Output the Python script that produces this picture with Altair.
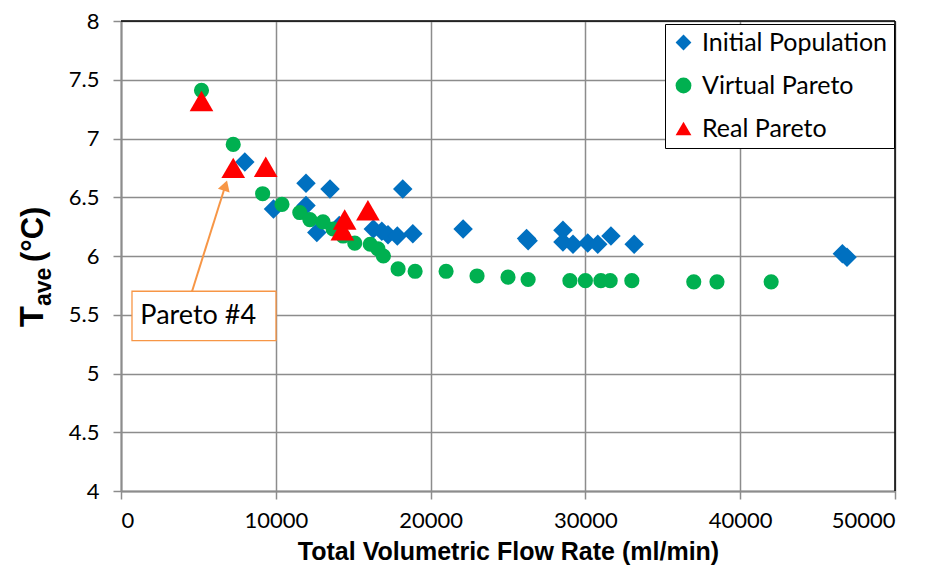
import altair as alt
import pandas as pd

# ---------------- data ----------------
series_names = ["Initial Population", "Virtual Pareto", "Real Pareto"]
series_colors = ["#0070C0", "#00B050", "#FF0000"]
series_shapes = ["diamond", "circle", "triangle-up"]

init_x = [8000, 9850, 11950, 11950, 12650, 13500, 14100, 16300, 16850, 17250, 17850,
          18200, 18850, 22100, 26200, 26300, 28550, 28550, 29200, 30150, 30800, 31650,
          33150, 46600, 46900]
init_y = [6.80, 6.40, 6.62, 6.43, 6.20, 6.57, 6.26, 6.23, 6.21, 6.18, 6.17,
          6.57, 6.19, 6.23, 6.15, 6.13, 6.22, 6.12, 6.10, 6.11, 6.10, 6.17,
          6.10, 6.02, 5.99]

virt_x = [5200, 7250, 9150, 10400, 11550, 12200, 13050, 13700, 14350, 15100, 16100,
          16600, 16950, 17900, 19000, 21000, 23000, 25000, 26300, 29000, 30000, 31000,
          31600, 33000, 37000, 38500, 42000]
virt_y = [7.41, 6.95, 6.53, 6.44, 6.37, 6.31, 6.29, 6.23, 6.17, 6.11, 6.10,
          6.06, 6.00, 5.89, 5.87, 5.87, 5.83, 5.82, 5.80, 5.79, 5.79, 5.79,
          5.79, 5.79, 5.78, 5.78, 5.78]

real_x = [5200, 7250, 9350, 14300, 14450, 15950]
real_y = [7.32, 6.75, 6.76, 6.22, 6.31, 6.39]

x_ticks = [0, 10000, 20000, 30000, 40000, 50000]
y_ticks = [4, 4.5, 5, 5.5, 6, 6.5, 7, 7.5, 8]

# annotation "Pareto #4"
note_text = "Pareto #4"
note_box_x = [710, 10010]
note_box_y = [5.28, 5.70]
note_text_pos = [1250, 5.49]
arrow_from = [4590, 5.70]
arrow_to = [6744, 6.60]

# ---------------- build ----------------
rows = []
for name, xs_, ys_ in zip(series_names, [init_x, virt_x, real_x], [init_y, virt_y, real_y]):
    for a, b in zip(xs_, ys_):
        rows.append({"flow": a, "tave": b, "series": name})
df = pd.DataFrame(rows)

W, H = 774, 470
GRID = "#8C8C8C"
xs = alt.Scale(domain=[0, 50000], nice=False, zero=False)
ys = alt.Scale(domain=[4, 8], nice=False, zero=False)

xaxis = alt.Axis(title="Total Volumetric Flow Rate (ml/min)", values=x_ticks, format="d",
                 grid=True, gridColor=GRID, gridWidth=1.5, domainColor=GRID, domainWidth=2,
                 tickColor=GRID, tickSize=8, tickWidth=1.5, labelFont="Lato", labelFontSize=22,
                 labelColor="black", labelPadding=11, titleFont="Liberation Sans",
                 titleFontSize=25, titleFontWeight="bold", titleColor="black", titlePadding=8)
yaxis = alt.Axis(title=None, values=y_ticks, format="~g",
                 grid=True, gridColor=GRID, gridWidth=1.5, domainColor=GRID, domainWidth=2,
                 tickColor=GRID, tickSize=8, tickWidth=1.5, labelFont="Lato", labelFontSize=22,
                 labelColor="black", labelPadding=14)

leg = alt.Legend(title=None, orient="none", legendX=544, legendY=3, fillColor="white",
                 strokeColor="black", padding=6, labelFont="Lato", labelFontSize=25,
                 labelColor="black", symbolSize=250, rowPadding=17, labelOffset=6,
                 labelLimit=400, symbolStrokeWidth=0)
color = alt.Color("series:N", scale=alt.Scale(domain=series_names, range=series_colors), legend=leg)
shape = alt.Shape("series:N", scale=alt.Scale(domain=series_names, range=series_shapes), legend=leg)

X = alt.X("flow:Q", scale=xs, axis=xaxis)
Y = alt.Y("tave:Q", scale=ys, axis=yaxis)

base = alt.Chart(df)


def pts(name, size):
    return base.transform_filter(alt.datum.series == name).mark_point(
        filled=True, size=size, opacity=1, strokeWidth=0
    ).encode(x=X, y=Y, color=color, shape=shape)


init_layer = pts(series_names[0], 380)
virt_layer = pts(series_names[1], 230)
real_layer = pts(series_names[2], 560)

box = alt.Chart(pd.DataFrame({"flow": [note_box_x[0]], "flow2": [note_box_x[1]],
                              "tave": [note_box_y[1]], "tave2": [note_box_y[0]]})).mark_rect(
    fill="white", stroke="#F79646", strokeWidth=1.3
).encode(x=X, x2="flow2:Q", y=Y, y2="tave2:Q")

note = alt.Chart(pd.DataFrame({"flow": [note_text_pos[0]], "tave": [note_text_pos[1]]})).mark_text(
    text=note_text, align="left", baseline="middle", font="Lato", fontSize=27, color="black"
).encode(x=X, y=Y)

arrow = alt.Chart(pd.DataFrame({"flow": [arrow_from[0]], "tave": [arrow_from[1]],
                                "flow2": [arrow_to[0]], "tave2": [arrow_to[1]]})).mark_rule(
    color="#F79646", strokeWidth=2
).encode(x=X, x2="flow2:Q", y=Y, y2="tave2:Q")

head = alt.Chart(pd.DataFrame({"flow": [arrow_to[0]], "tave": [arrow_to[1]]})).mark_point(
    shape="triangle-up", filled=True, size=150, angle=18, color="#F79646", opacity=1, strokeWidth=0
).encode(x=X, y=Y)

one = alt.Data(values=[{}])
top_border = alt.Chart(one).mark_rule(color="black", strokeWidth=1.5).encode(
    x=alt.value(0), x2=alt.value(W), y=alt.value(0))
right_border = alt.Chart(one).mark_rule(color="black", strokeWidth=1.5).encode(
    x=alt.value(W), y=alt.value(0), y2=alt.value(H))

t_main = alt.Chart(one).mark_text(text="T", angle=270, align="left", baseline="alphabetic",
                                  font="Liberation Sans", fontWeight="bold", fontSize=34,
                                  color="black").encode(x=alt.value(-78), y=alt.value(306))
t_sub = alt.Chart(one).mark_text(text="ave", angle=270, align="left", baseline="alphabetic",
                                 font="Liberation Sans", fontWeight="bold", fontSize=23,
                                 color="black").encode(x=alt.value(-70), y=alt.value(285))
t_unit = alt.Chart(one).mark_text(text="(°C)", angle=270, align="left", baseline="alphabetic",
                                  font="Liberation Sans", fontWeight="bold", fontSize=31,
                                  color="black").encode(x=alt.value(-78), y=alt.value(241))

chart = alt.layer(
    init_layer, virt_layer, real_layer, box, arrow, head, note,
    top_border, right_border, t_main, t_sub, t_unit
).properties(
    width=W, height=H,
    padding={"left": 113, "top": 13, "right": 25, "bottom": 80},
    autosize=alt.AutoSizeParams(type="none"),
    background="white",
).configure_view(stroke=None)

chart.save("out.html", embed_options={"renderer": "svg", "actions": False})
